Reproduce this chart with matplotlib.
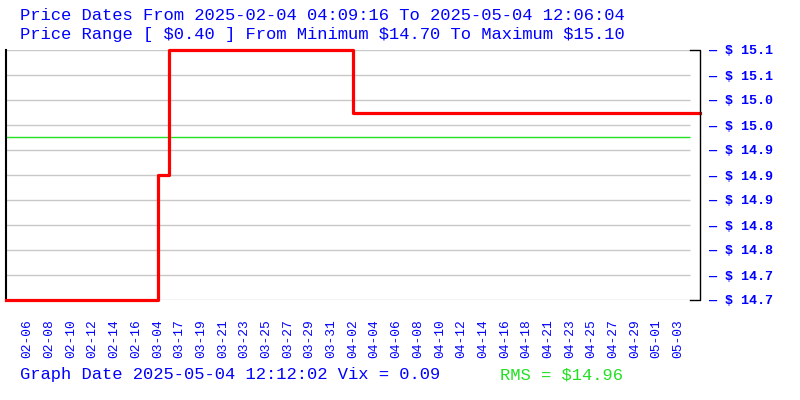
import numpy as np
import matplotlib
matplotlib.use('Agg')
from matplotlib import pyplot as plt

# sample positions (one per trading sample) where the price changes
step_idx = [0, 14, 15, 32, 64]
step_price = [14.70, 14.90, 15.10, 15.00, 15.00]

date_labels = ['02-06', '02-08', '02-10', '02-12', '02-14', '02-16', '03-04',
               '03-17', '03-19', '03-21', '03-23', '03-25', '03-27', '03-29',
               '03-31', '04-02', '04-04', '04-06', '04-08', '04-10', '04-12',
               '04-14', '04-16', '04-18', '04-21', '04-23', '04-25', '04-27',
               '04-29', '05-01', '05-03']

price_min = 14.70
price_max = 15.10
rms = 14.96
vix = 0.09
title_1 = 'Price Dates From 2025-02-04 04:09:16 To 2025-05-04 12:06:04'
title_2 = 'Price Range [ $0.40 ] From Minimum $14.70 To Maximum $15.10'
graph_date = 'Graph Date 2025-05-04 12:12:02 Vix = 0.09'

BLUE = '#0000ff'
GREEN = '#22e022'
FONT = 'Liberation Mono'

fig = plt.figure(figsize=(8, 4), dpi=100)
ax = fig.add_axes([6 / 800, 100 / 400, 694 / 800, 250 / 400])

y_ticks = np.linspace(price_min, price_max, 11)
grid_end = 684 / 694

# grid lines stop short of the right bracket
ax.hlines(y_ticks, 0, grid_end, transform=ax.get_yaxis_transform(),
          colors='#c8c8c8', lw=1, zorder=1)
ax.hlines([rms], 0, grid_end, transform=ax.get_yaxis_transform(),
          colors=GREEN, lw=1, zorder=2)

ax.plot(step_idx, step_price, drawstyle='steps-post', color='#ff0000',
        lw=2.3, clip_on=False, zorder=3)

# right bracket
ax.plot([grid_end, 1, 1, grid_end], [1, 1, 0, 0], color='black', lw=1,
        transform=ax.transAxes, clip_on=False, zorder=4)

ax.set_xlim(0, 64)
ax.set_ylim(price_min, price_max)

for s in ['top', 'bottom', 'right']:
    ax.spines[s].set_visible(False)
ax.spines['left'].set_color('black')
ax.spines['left'].set_linewidth(1.5)

ax.set_xticks(np.arange(2, 2 * len(date_labels) + 1, 2))
ax.set_xticklabels(date_labels, rotation=90, fontsize=9.3, family=FONT,
                   color=BLUE, va='top')
ax.tick_params(axis='x', length=0, pad=14)

ax.yaxis.tick_right()
ax.set_yticks(y_ticks)
ax.set_yticklabels([f'\u2014 $ {v:.1f}' for v in y_ticks], fontsize=9.6,
                   family=FONT, fontweight='bold', color=BLUE)
ax.tick_params(axis='y', length=0, pad=6.5)

fig.text(20 / 800, 1 - 15 / 400, title_1, family=FONT, fontsize=12.35,
         color=BLUE, va='center', ha='left')
fig.text(20 / 800, 1 - 35 / 400, title_2, family=FONT, fontsize=12.35,
         color=BLUE, va='center', ha='left')
fig.text(20 / 800, 1 - 375 / 400, graph_date, family=FONT, fontsize=12.35,
         color=BLUE, va='center', ha='left')
fig.text(500 / 800, 1 - 375 / 400, f'RMS = ${rms:.2f}', family=FONT,
         fontsize=12.35, color=GREEN, va='center', ha='left')

fig.savefig('out.png', dpi=100, facecolor='white')
